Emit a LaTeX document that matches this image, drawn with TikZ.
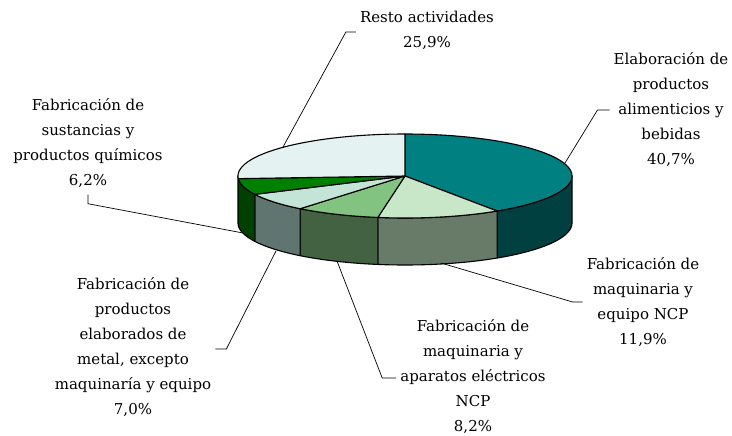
\documentclass[tikz,border=0pt]{standalone}
\usepackage{fontspec}
\setmainfont{DejaVu Serif}
\usetikzlibrary{calc}

\definecolor{alimtop}{RGB}{0,128,128}
\definecolor{alimside}{RGB}{0,64,64}
\definecolor{maqtop}{RGB}{200,230,200}
\definecolor{maqside}{RGB}{104,122,104}
\definecolor{apartop}{RGB}{130,195,130}
\definecolor{aparside}{RGB}{66,98,66}
\definecolor{metaltop}{RGB}{195,228,215}
\definecolor{metalside}{RGB}{96,116,112}
\definecolor{quimtop}{RGB}{0,128,0}
\definecolor{quimside}{RGB}{0,64,0}
\definecolor{restotop}{RGB}{228,242,242}

\begin{document}
\begin{tikzpicture}[x=1pt,y=-1pt]
  \tikzset{lbl/.style = {align=center,font=\fontsize{15}{25}\selectfont,inner sep=2pt}}
  \tikzset{slice/.style = {draw=black,line width=1.1pt,line join=round}}
  \tikzset{leader/.style = {draw=black,line width=0.7pt}}
  \def\cx{405}\def\cy{176}\def\rx{167}\def\ry{42}\def\dep{47}
  \useasboundingbox (0,0) rectangle (732,436);

	% sides
	\filldraw[slice,fill=alimside] plot[domain=0:-56.52,samples=40] ({\cx+\rx*cos(\x)},{\cy-\ry*sin(\x)}) -- plot[domain=-56.52:0,samples=40] ({\cx+\rx*cos(\x)},{\cy+\dep-\ry*sin(\x)}) -- cycle;
	\filldraw[slice,fill=maqside] plot[domain=-56.52:-99.36,samples=30] ({\cx+\rx*cos(\x)},{\cy-\ry*sin(\x)}) -- plot[domain=-99.36:-56.52,samples=30] ({\cx+\rx*cos(\x)},{\cy+\dep-\ry*sin(\x)}) -- cycle;
	\filldraw[slice,fill=aparside] plot[domain=-99.36:-128.88,samples=30] ({\cx+\rx*cos(\x)},{\cy-\ry*sin(\x)}) -- plot[domain=-128.88:-99.36,samples=30] ({\cx+\rx*cos(\x)},{\cy+\dep-\ry*sin(\x)}) -- cycle;
	\filldraw[slice,fill=metalside] plot[domain=-128.88:-154.08,samples=30] ({\cx+\rx*cos(\x)},{\cy-\ry*sin(\x)}) -- plot[domain=-154.08:-128.88,samples=30] ({\cx+\rx*cos(\x)},{\cy+\dep-\ry*sin(\x)}) -- cycle;
	\filldraw[slice,fill=quimside] plot[domain=-154.08:-180,samples=30] ({\cx+\rx*cos(\x)},{\cy-\ry*sin(\x)}) -- plot[domain=-180:-154.08,samples=30] ({\cx+\rx*cos(\x)},{\cy+\dep-\ry*sin(\x)}) -- cycle;

	% top
	\coordinate (c) at (\cx,\cy);
	\filldraw[slice,fill=alimtop] (c) -- plot[domain=90:-56.52,samples=80] ({\cx+\rx*cos(\x)},{\cy-\ry*sin(\x)}) -- cycle;
	\filldraw[slice,fill=maqtop] (c) -- plot[domain=-56.52:-99.36,samples=30] ({\cx+\rx*cos(\x)},{\cy-\ry*sin(\x)}) -- cycle;
	\filldraw[slice,fill=apartop] (c) -- plot[domain=-99.36:-128.88,samples=30] ({\cx+\rx*cos(\x)},{\cy-\ry*sin(\x)}) -- cycle;
	\filldraw[slice,fill=metaltop] (c) -- plot[domain=-128.88:-154.08,samples=30] ({\cx+\rx*cos(\x)},{\cy-\ry*sin(\x)}) -- cycle;
	\filldraw[slice,fill=quimtop] (c) -- plot[domain=-154.08:-176.4,samples=30] ({\cx+\rx*cos(\x)},{\cy-\ry*sin(\x)}) -- cycle;
	\filldraw[slice,fill=restotop] (c) -- plot[domain=-176.4:-270,samples=60] ({\cx+\rx*cos(\x)},{\cy-\ry*sin(\x)}) -- cycle;

	% labels
	\node[lbl] (resto) at (427,30) {Resto actividades\\25,9\%};
	\node[lbl] (alim) at (671,110) {Elaboración de\\productos\\alimenticios y\\bebidas\\40,7\%};
	\node[lbl] (quim) at (88,143) {Fabricación de\\sustancias y\\productos químicos\\6,2\%};
	\node[lbl] (metal) at (133,347) {Fabricación de\\productos\\elaborados de\\metal, excepto\\maquinaría y equipo\\7,0\%};
	\node[lbl] (apar) at (473,377) {Fabricación de\\maquinaria y\\aparatos eléctricos\\NCP\\8,2\%};
	\node[lbl] (maq) at (643,302) {Fabricación de\\maquinaria y\\equipo NCP\\11,9\%};

	\coordinate (pResto) at (283,147);
	\coordinate (pAlim) at (565,163);
	\coordinate (pQuim) at (243,233);
	\coordinate (pMetal) at (276,251);
	\coordinate (pApar) at (337,261);
	\coordinate (pMaq) at (441,263);

	\draw[leader] ($(resto.west)+(-2,2)$) -- ++(-10,0) -- (pResto);
	\draw[leader] ($(alim.west)+(-2,0)$) -- ++(-12,0) -- (pAlim);
	\draw[leader] ($(quim.south)+(0,5)$) -- ++(0,9) -- (pQuim);
	\draw[leader] ($(metal.east)+(2,2)$) -- ++(11,0) -- (pMetal);
	\draw[leader] ($(apar.west)+(-2,1)$) -- ++(-14,0) -- (pApar);
	\draw[leader] ($(maq.west)+(-2,0)$) -- ++(-10,0) -- (pMaq);
\end{tikzpicture}
\end{document}
